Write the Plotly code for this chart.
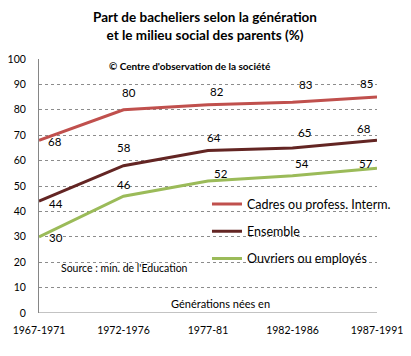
import plotly.graph_objects as go

categories = ["1967-1971", "1972-1976", "1977-81", "1982-1986", "1987-1991"]
cadres = [68, 80, 82, 83, 85]
ensemble = [44, 58, 64, 65, 68]
ouvriers = [30, 46, 52, 54, 57]
series_names = ["Cadres ou profess. Interm.", "Ensemble", "Ouvriers ou employés"]
colors = ["#C0504D", "#632523", "#9BBB59"]

xs = list(range(len(categories)))
FONT = "Lato, Calibri, sans-serif"

# label offsets (pixels) relative to each point, as in the reference
label_shifts = [
    [(16, -1), (5, 17), (9, 13), (13, 18), (-11, 14)],
    [(17, -2), (0, 18), (6, 13), (12, 15), (-13, 12)],
    [(17, -1), (0, 12), (13, 7), (9, 12), (-11, 5)],
]

fig = go.Figure()
all_series = [cadres, ensemble, ouvriers]
for i, (name, vals) in enumerate(zip(series_names, all_series)):
    fig.add_trace(go.Scatter(
        x=xs, y=vals, name=name, mode="lines",
        line=dict(color=colors[i], width=3),
        legendgroup=f"g{i}",
    ))
    for j, v in enumerate(vals):
        dx, dy = label_shifts[i][j]
        fig.add_annotation(x=xs[j], y=v, text=str(v), showarrow=False,
                           xshift=dx, yshift=dy, xanchor="center", yanchor="middle",
                           font=dict(family=FONT, size=11.5, color="#000000"))

# page body has an 8px default margin: figure is 403x348 placed at (8, 8)
fig.update_layout(
    width=403, height=348,
    margin=dict(l=31, r=34, t=51, b=43, autoexpand=False),
    paper_bgcolor="white", plot_bgcolor="white",
    font=dict(family=FONT, size=12, color="#000000"),
    title=dict(
        text="<b>Part de bacheliers selon la génération<br>et le milieu social des parents (%)</b>",
        x=(205 - 8) / 403, xanchor="center", y=1 - 14 / 348, yanchor="middle",
        font=dict(family=FONT, size=13.5, color="#000000"),
    ),
    xaxis=dict(
        range=[0, 4], tickvals=xs, ticktext=categories, automargin=False,
        showgrid=False, zeroline=False, showline=False, ticks="",
        tickfont=dict(family=FONT, size=10.5), ticklabelstandoff=9,
    ),
    yaxis=dict(
        range=[0, 100], dtick=10, showgrid=True, automargin=False,
        gridcolor="#8c8c8c", griddash="dot", gridwidth=1,
        zeroline=False, showline=True, linecolor="#868686", linewidth=1,
        ticks="", tickfont=dict(family=FONT, size=10.5), ticklabelstandoff=10,
    ),
    legend=dict(
        x=0.497, y=0.487, xanchor="left", yanchor="top",
        bgcolor="rgba(0,0,0,0)", tracegroupgap=8,
        font=dict(family=FONT, size=12.5),
    ),
    showlegend=True,
)

fig.add_shape(type="line", xref="x", yref="y", x0=0, x1=4, y0=0, y1=0,
              line=dict(color="#868686", width=1))

fig.add_annotation(text="<b>© Centre d'observation de la société</b>", xref="paper", yref="paper",
                   x=0.447, y=0.974, xanchor="center", yanchor="middle", showarrow=False,
                   font=dict(family=FONT, size=10))
fig.add_annotation(text="Source : min. de l'Education", xref="paper", yref="paper",
                   x=0.253, y=0.177, xanchor="center", yanchor="middle", showarrow=False,
                   font=dict(family=FONT, size=10.5))
fig.add_annotation(text="Générations nées en", xref="paper", yref="paper",
                   x=0.537, y=0.039, xanchor="center", yanchor="middle", showarrow=False,
                   font=dict(family=FONT, size=11))

fig.write_html("out.html")
